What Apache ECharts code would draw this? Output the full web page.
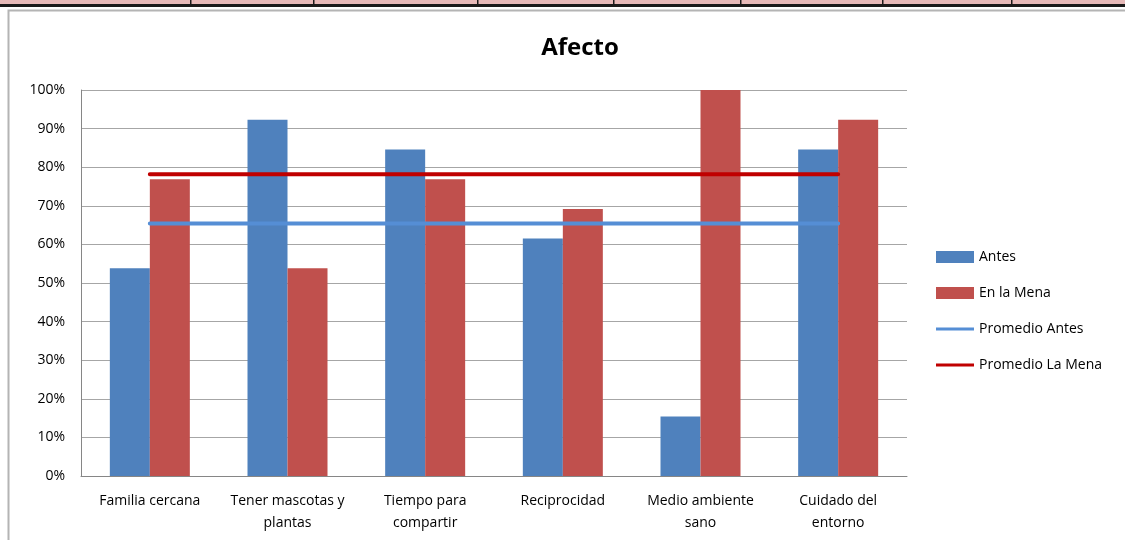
<!DOCTYPE html>
<html>
<head>
<meta charset="utf-8">
<script src="https://cdn.jsdelivr.net/npm/echarts@6/dist/echarts.min.js"></script>
<style>
  html, body { margin: 0; padding: 0; background: #ffffff; }
  #chart { width: 1125px; height: 540px; }
</style>
</head>
<body>
<div id="chart"></div>
<script>
// Categories of the "Afecto" dimension (line breaks as shown under the axis)
const categories = [
  'Familia cercana',
  'Tener mascotas y\nplantas',
  'Tiempo para\ncompartir',
  'Reciprocidad',
  'Medio ambiente\nsano',
  'Cuidado del\nentorno'
];

// Percentages per category
const antes = [53.8, 92.3, 84.6, 61.5, 15.4, 84.6];
const enLaMena = [76.9, 53.8, 76.9, 69.2, 100, 92.3];

// Averages, drawn as flat lines across the categories
const promedioAntes = [65.4, 65.4, 65.4, 65.4, 65.4, 65.4];
const promedioLaMena = [78.2, 78.2, 78.2, 78.2, 78.2, 78.2];

// Y axis ticks
const yMin = 0, yMax = 100, yStep = 10;

// Spreadsheet cell borders visible above the chart frame
const cellEdges = [190, 313, 477, 613, 740, 882, 1011];

const FONT = 'Open Sans';

// Thin horizontal bar used as the legend icon of the average lines
// (the outer move-to points keep the full icon box so the bar stays thin)
const LINE_ICON = 'path://M0,0 M0,4.4 L38,4.4 L38,7.6 L0,7.6 Z M38,12';

const chart = echarts.init(document.getElementById('chart'), null, { renderer: 'canvas' });

const decor = [
  { type: 'rect', shape: { x: 0, y: 0, width: 1125, height: 4 }, style: { fill: '#e6b9b8' }, silent: true },
  { type: 'rect', shape: { x: 0, y: 4, width: 1125, height: 3 }, style: { fill: '#1a1a1a' }, silent: true },
  { type: 'rect', shape: { x: 8.5, y: 10.5, width: 1300, height: 700 },
    style: { fill: 'none', stroke: '#b4b4b4', lineWidth: 2 }, silent: true }
];
cellEdges.forEach(function (x) {
  decor.push({ type: 'rect', shape: { x: x, y: 0, width: 1.5, height: 5 }, style: { fill: '#1a1a1a' }, silent: true });
});

chart.setOption({
  animation: false,
  backgroundColor: '#ffffff',
  textStyle: { fontFamily: FONT },
  graphic: decor,
  title: {
    text: 'Afecto',
    left: 575,
    textAlign: 'center',
    top: 31,
    textStyle: { fontFamily: FONT, fontSize: 24, fontWeight: 'bold', color: '#000000' }
  },
  legend: {
    orient: 'vertical',
    left: 931,
    top: 245,
    padding: 5,
    itemWidth: 38,
    itemHeight: 12,
    itemGap: 22,
    textStyle: { fontFamily: FONT, fontSize: 14, color: '#000000' },
    data: [
      { name: 'Antes', icon: 'rect' },
      { name: 'En la Mena', icon: 'rect' },
      { name: 'Promedio Antes', icon: LINE_ICON },
      { name: 'Promedio La Mena', icon: LINE_ICON }
    ]
  },
  grid: { left: 81, top: 90, right: 218, bottom: 64, containLabel: false },
  xAxis: {
    type: 'category',
    data: categories,
    axisLine: { show: true, lineStyle: { color: '#868686', width: 1 } },
    axisTick: { show: false },
    axisLabel: {
      interval: 0,
      margin: 14,
      fontFamily: FONT,
      fontSize: 14,
      lineHeight: 22,
      color: '#000000'
    }
  },
  yAxis: {
    type: 'value',
    min: yMin,
    max: yMax,
    interval: yStep,
    axisLine: { show: true, lineStyle: { color: '#868686', width: 1 } },
    axisTick: { show: false },
    splitLine: { show: true, lineStyle: { color: '#a6a6a6', width: 1 } },
    axisLabel: {
      margin: 16,
      formatter: '{value}%',
      fontFamily: FONT,
      fontSize: 14,
      color: '#000000'
    }
  },
  series: [
    {
      name: 'Antes',
      type: 'bar',
      data: antes,
      barWidth: 40,
      barGap: '0%',
      itemStyle: { color: '#4f81bd' },
      z: 2
    },
    {
      name: 'En la Mena',
      type: 'bar',
      data: enLaMena,
      barWidth: 40,
      barGap: '0%',
      itemStyle: { color: '#c0504d' },
      z: 2
    },
    {
      name: 'Promedio Antes',
      type: 'line',
      data: promedioAntes,
      symbol: 'none',
      lineStyle: { color: '#558ed5', width: 4, cap: 'round' },
      itemStyle: { color: '#558ed5' },
      z: 5
    },
    {
      name: 'Promedio La Mena',
      type: 'line',
      data: promedioLaMena,
      symbol: 'none',
      lineStyle: { color: '#c00000', width: 4, cap: 'round' },
      itemStyle: { color: '#c00000' },
      z: 5
    }
  ]
});
</script>
</body>
</html>
